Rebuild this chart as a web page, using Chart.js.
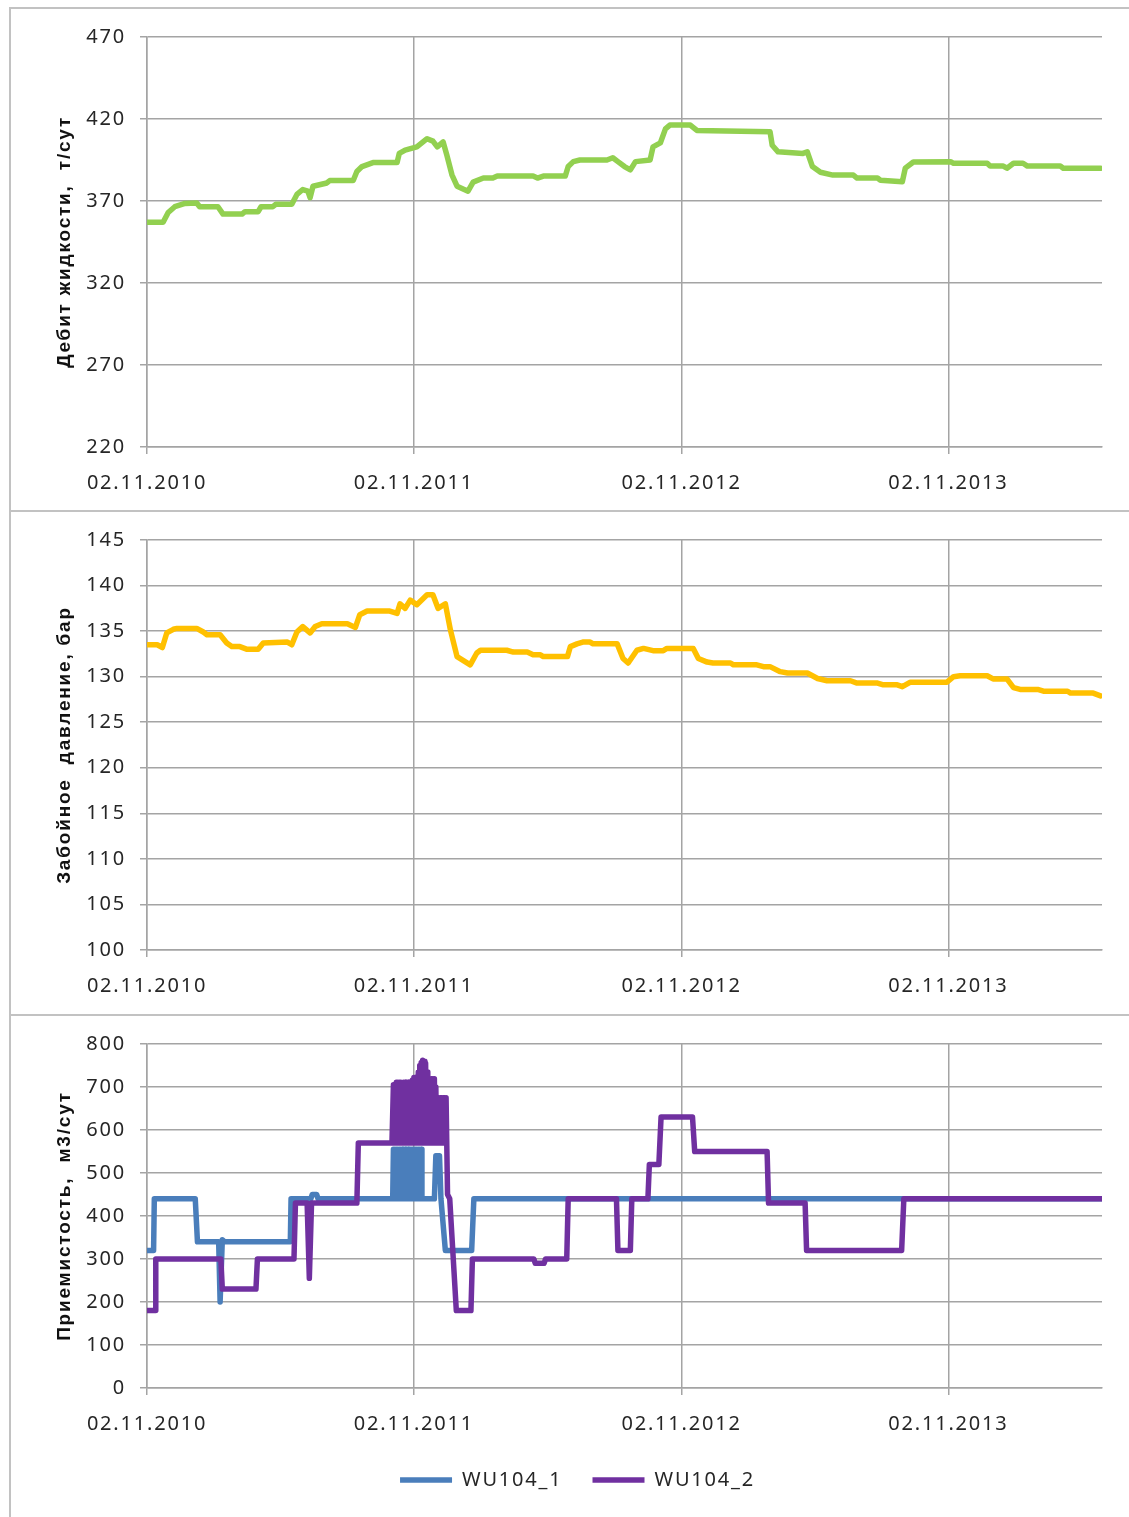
<!DOCTYPE html>
<html>
<head>
<meta charset="utf-8">
<title>Скважина: дебит, забойное давление, приемистость</title>
<script src="https://cdn.jsdelivr.net/npm/chart.js@4.4.1/dist/chart.umd.min.js"></script>
<style>
  html, body { margin: 0; padding: 0; background: #fff; }
  body { width: 1129px; height: 1517px; position: relative; overflow: hidden; }
  .panel { position: absolute; left: 9px; width: 1140px; box-sizing: border-box;
           border: 2px solid #c2c2c2; border-bottom: none; background: #fff; }
  #p1 { top: 7px;    height: 505px; }
  #p2 { top: 510px;  height: 506px; }
  #p3 { top: 1014px; height: 510px; }
  .panel canvas { position: absolute; left: 0; top: 0; }
</style>
</head>
<body>
<div class="panel" id="p1"><canvas id="c1" width="1118" height="501"></canvas></div>
<div class="panel" id="p2"><canvas id="c2" width="1118" height="502"></canvas></div>
<div class="panel" id="p3"><canvas id="c3" width="1118" height="501"></canvas></div>
<script>
// Time axis: days counted from 02.11.2010
const tickDays   = [0, 365, 731, 1096];
const tickLabels = ['02.11.2010', '02.11.2011', '02.11.2012', '02.11.2013'];
const lastDay    = 1306;

// Дебит жидкости, т/сут
const rateDays = [0,22,29,38,52,68,72,97,104,130,134,152,156,172,176,198,205,213,220,223,
  227,246,250,282,287,294,309,342,345,353,369,383,391,397,405,410,417,424,439,446,
  460,473,479,528,534,542,572,576,583,592,629,637,644,653,661,668,688,692,702,709,
  715,743,752,852,855,863,897,903,910,921,938,966,971,999,1003,1033,1037,1048,1099,1103,
  1149,1153,1171,1176,1185,1198,1204,1249,1253,1304];
const rateValues = [357,357,363,366.5,368.5,368.8,366.5,366.5,362,362,363.5,363.5,366.5,366.5,368,368,374,377,376,372,
  379,381,382.5,382.5,388,391,393.4,393.4,399,401,403,408,406.5,403,406,398,386,379,376,381.5,
  384,384,385.2,385.2,384,385.2,385.2,391,394,395,395,396.4,394,391,389,394,395,403,405.4,414,
  416.3,416.3,413,412.3,404,400,399,400,391,387.5,385.8,385.8,384,384,382.7,381.8,390,393.8,394,393,
  393,391.3,391.3,390,393,393,391.3,391.3,390,390];

// Забойное давление, бар
const pressureDays = [0,14,21,27,36,41,68,77,82,100,109,116,127,137,152,159,192,198,205,213,
  223,230,239,274,285,291,301,332,342,346,353,360,369,383,391,398,408,415,424,442,
  451,456,492,501,520,528,538,542,575,579,588,596,606,610,643,651,658,670,679,692,
  706,711,747,754,766,774,798,802,834,843,852,866,876,903,917,930,962,971,999,1007,
  1026,1033,1044,1094,1103,1112,1149,1157,1176,1185,1194,1218,1226,1259,1263,1294,1304];
const pressureValues = [133.5,133.5,133.2,134.8,135.2,135.3,135.3,134.9,134.6,134.6,133.7,133.3,133.3,133.0,133.0,133.7,133.8,133.5,134.9,135.5,
  134.8,135.5,135.8,135.8,135.4,136.8,137.2,137.2,136.95,138,137.5,138.4,137.9,139,139,137.5,138,135.1,132.2,131.3,
  132.6,132.9,132.9,132.7,132.7,132.4,132.4,132.2,132.2,133.3,133.6,133.8,133.8,133.6,133.6,132.0,131.5,132.9,133.1,132.85,
  132.85,133.1,133.1,132.0,131.6,131.5,131.5,131.3,131.3,131.1,131.1,130.55,130.4,130.4,129.8,129.55,129.55,129.3,129.3,129.1,
  129.1,128.9,129.4,129.4,130.0,130.1,130.1,129.75,129.75,128.8,128.6,128.6,128.4,128.4,128.2,128.2,127.9];

// Приемистость, м3/сут — WU104_1 (daily switching between 440 and 555 in Nov 2011)
const wu1Days = [0,9,10,66,69,98,100,103,106,196,197,224,226,232,234,336,
  337,338,339,340,341,342,343,344,345,346,347,348,349,350,351,352,353,354,355,356,
  357,358,359,360,361,362,363,364,365,366,367,368,369,370,371,372,373,374,375,376,
  393,395,400,402,408,444,447,1306];
const wu1Values = [320,320,440,440,340,340,200,345,340,340,440,440,450,450,440,440,
  555,440,555,440,555,440,555,440,555,440,555,440,555,440,555,440,555,440,555,440,
  555,440,555,440,555,440,555,440,555,440,555,440,555,440,555,440,555,440,555,440,
  440,540,540,440,320,320,440,440];

// Приемистость, м3/сут — WU104_2 (daily switching between 570 and the peaks in Nov 2011)
const wu2Days = [0,11,12,101,103,149,151,201,203,219,222,225,287,289,335,
  337,338,339,340,341,342,343,344,345,346,347,348,349,350,351,352,353,354,355,356,
  357,358,359,360,361,362,363,364,365,366,367,368,369,370,371,372,373,374,375,376,
  377,378,379,380,381,382,383,384,385,386,387,388,389,390,391,392,393,394,395,396,
  397,398,399,400,401,402,403,404,405,406,407,408,409,
  411,414,423,443,445,529,531,543,545,574,576,642,644,661,663,685,687,700,703,746,749,848,850,900,902,1032,1035,1306];
const wu2Values = [180,180,300,300,230,230,300,300,430,430,255,430,430,570,570,
  705,570,705,570,711,570,711,570,711,570,711,570,698,570,711,570,711,570,711,570,
  711,570,711,570,711,570,716,570,722,570,722,570,722,570,735,570,750,570,757,570,
  762,570,760,570,755,570,735,570,719,570,719,570,719,570,719,570,719,570,700,570,
  675,570,675,570,675,570,675,570,675,570,675,570,675,
  450,440,180,180,300,300,290,290,300,300,440,440,320,320,440,440,520,520,630,630,550,550,430,430,320,320,440,440];

const GRID = '#a4a4a4';
const TEXT = '#262626';
const TICK_FONT = { family: '"Noto Sans", "DejaVu Sans", sans-serif', size: 20 };
const TITLE_FONT = { family: '"Liberation Sans", Arial, sans-serif', size: 19, weight: 'bold' };
const SPACING = '1.8px';

const toPoints = (days, values) => days.map((d, i) => ({ x: d, y: values[i] }));

// wide, spaced lettering for all chart text
const spacedText = {
  id: 'spacedText',
  beforeLayout(chart) { chart.ctx.letterSpacing = SPACING; },
  beforeDraw(chart) { chart.ctx.letterSpacing = SPACING; }
};

function lineSet(label, days, values, color, order) {
  return {
    label, data: toPoints(days, values),
    borderColor: color, backgroundColor: color,
    borderWidth: 5.5, pointRadius: 0, tension: 0,
    borderJoinStyle: 'round', borderCapStyle: 'round',
    order
  };
}

function panelOptions(yMin, yMax, yStep, yTitle, xHeight, legend, padBottom) {
  return {
    responsive: false,
    animation: false,
    events: [],
    layout: { padding: { left: 42, top: 28, right: 27, bottom: padBottom } },
    plugins: {
      tooltip: { enabled: false },
      legend: legend ? {
        display: true, position: 'bottom',
        labels: {
          usePointStyle: true, pointStyle: 'line', pointStyleWidth: 52,
          padding: 30, color: TEXT, font: TICK_FONT,
          sort: (a, b) => a.datasetIndex - b.datasetIndex
        }
      } : { display: false }
    },
    scales: {
      x: {
        type: 'linear', min: 0, max: lastDay,
        afterBuildTicks: s => { s.ticks = tickDays.map(v => ({ value: v })); },
        afterFit: s => { s.height = xHeight; },
        grid: { color: GRID, lineWidth: 1.5, tickLength: 7 },
        border: { color: GRID, width: 1.5 },
        ticks: {
          autoSkip: false, maxRotation: 0, padding: 17, color: TEXT, font: TICK_FONT,
          callback: v => { const i = tickDays.indexOf(v); return i < 0 ? '' : tickLabels[i]; }
        }
      },
      y: {
        min: yMin, max: yMax,
        afterFit: s => { s.width = 94; },
        grid: { color: GRID, lineWidth: 1.5, tickLength: 7 },
        border: { color: GRID, width: 1.5 },
        ticks: { stepSize: yStep, padding: 14, color: TEXT, font: TICK_FONT },
        title: { display: true, text: yTitle, color: '#111', font: TITLE_FONT, padding: 0 }
      }
    }
  };
}

new Chart(document.getElementById('c1'), {
  type: 'line',
  data: { datasets: [lineSet('Дебит жидкости', rateDays, rateValues, '#92d050', 0)] },
  options: panelOptions(220, 470, 50, 'Дебит жидкости,  т/сут', 63, false, 0),
  plugins: [spacedText]
});

new Chart(document.getElementById('c2'), {
  type: 'line',
  data: { datasets: [lineSet('Забойное давление', pressureDays, pressureValues, '#ffc000', 0)] },
  options: panelOptions(100, 145, 5, 'Забойное  давление, бар', 64, false, 0),
  plugins: [spacedText]
});

new Chart(document.getElementById('c3'), {
  type: 'line',
  data: { datasets: [
    lineSet('WU104_1', wu1Days, wu1Values, '#4a7ebb', 1),
    lineSet('WU104_2', wu2Days, wu2Values, '#7030a0', 0)
  ] },
  options: panelOptions(0, 800, 100, 'Приемистость,  м3/сут', 52, true, 17),
  plugins: [spacedText]
});
</script>
</body>
</html>
